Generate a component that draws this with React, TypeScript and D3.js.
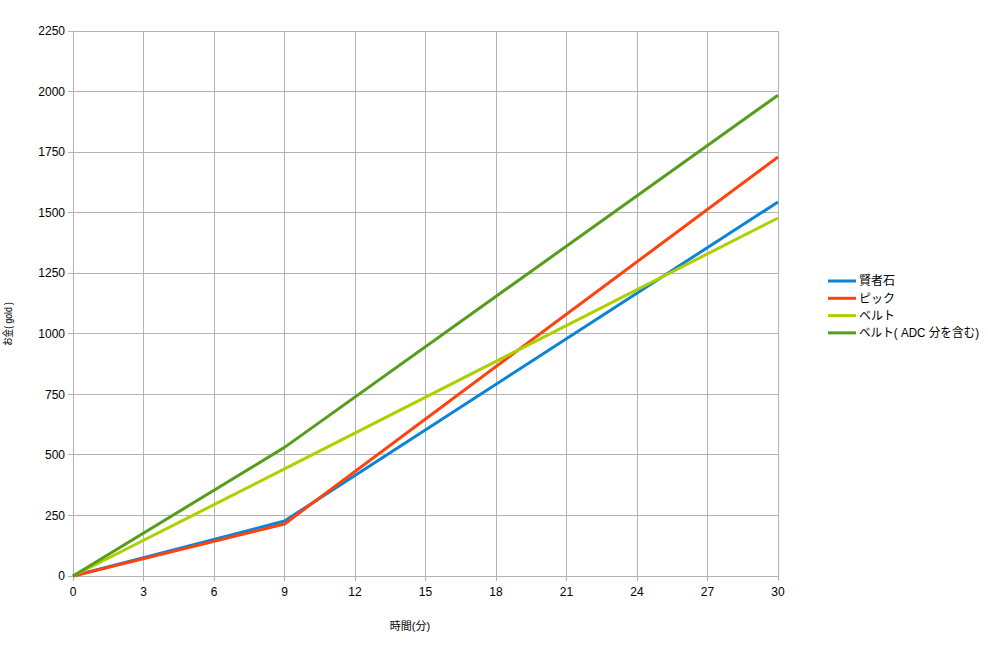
import React from "react";
import * as d3 from "d3";

const minutes = [0, 9, 30];
const kenjaSeki = [0, 227, 1544];
const pick = [0, 215, 1730];
const belt = [0, 442, 1478];
const beltAdc = [0, 531, 1985];
const seriesNames = ["賢者石", "ピック", "ベルト", "ベルト( ADC 分を含む)"];
const seriesColors = ["#0a84d6", "#ff420e", "#aecf00", "#579d1c"];
const xTicks = [0, 3, 6, 9, 12, 15, 18, 21, 24, 27, 30];
const yTicks = [0, 250, 500, 750, 1000, 1250, 1500, 1750, 2000, 2250];

export default function App() {
  const W = 988, H = 645;
  const L = 73, R = 778, T = 31, B = 576;
  const x = d3.scaleLinear().domain([0, 30]).range([L, R]);
  const y = d3.scaleLinear().domain([0, 2250]).range([B, T]);
  const allSeries = [kenjaSeki, pick, belt, beltAdc];
  const line = d3.line<number>().x((_, i) => x(minutes[i])).y((d) => y(d));
  const font = "'Liberation Sans', Arial, 'Noto Sans CJK JP', sans-serif";
  return (
    <svg width={W} height={H} style={{ position: "absolute", left: 0, top: 0, background: "#fff" }} fontFamily={font}>
      <rect x={0} y={0} width={W} height={H} fill="#fff" />
      {yTicks.map((t) => (
        <g key={"y" + t}>
          <line x1={L - 5} x2={R} y1={y(t)} y2={y(t)} stroke="#b3b3b3" strokeWidth={1} shapeRendering="crispEdges" />
          <text x={L - 8} y={y(t)} dy="0.35em" textAnchor="end" fontSize={12} fill="#000">{t}</text>
        </g>
      ))}
      {xTicks.map((t) => (
        <g key={"x" + t}>
          <line x1={x(t)} x2={x(t)} y1={T} y2={B + 5} stroke="#b3b3b3" strokeWidth={1} shapeRendering="crispEdges" />
          <text x={x(t)} y={B + 20} textAnchor="middle" fontSize={12} fill="#000">{t}</text>
        </g>
      ))}
      {allSeries.map((s, i) => (
        <path key={"s" + i} d={line(s) || ""} fill="none" stroke={seriesColors[i]} strokeWidth={3} strokeLinejoin="round" />
      ))}
      <text x={410} y={630} textAnchor="middle" fontSize={11} fill="#000">時間(分)</text>
      <text transform={`translate(12, 324) rotate(-90)`} textAnchor="middle" fontSize={11} fill="#000" textLength={44} lengthAdjust="spacingAndGlyphs">お金( gold )</text>
      {seriesNames.map((n, i) => {
        const ly = 281 + i * 17.3;
        const extra = i === 3 ? { textLength: 120, lengthAdjust: "spacingAndGlyphs" } : {};
        return (
          <g key={"l" + i}>
            <line x1={828} x2={856} y1={ly} y2={ly} stroke={seriesColors[i]} strokeWidth={3} />
            <text x={859} y={ly} dy="0.35em" fontSize={12} fill="#000" {...extra}>{n}</text>
          </g>
        );
      })}
    </svg>
  );
}
